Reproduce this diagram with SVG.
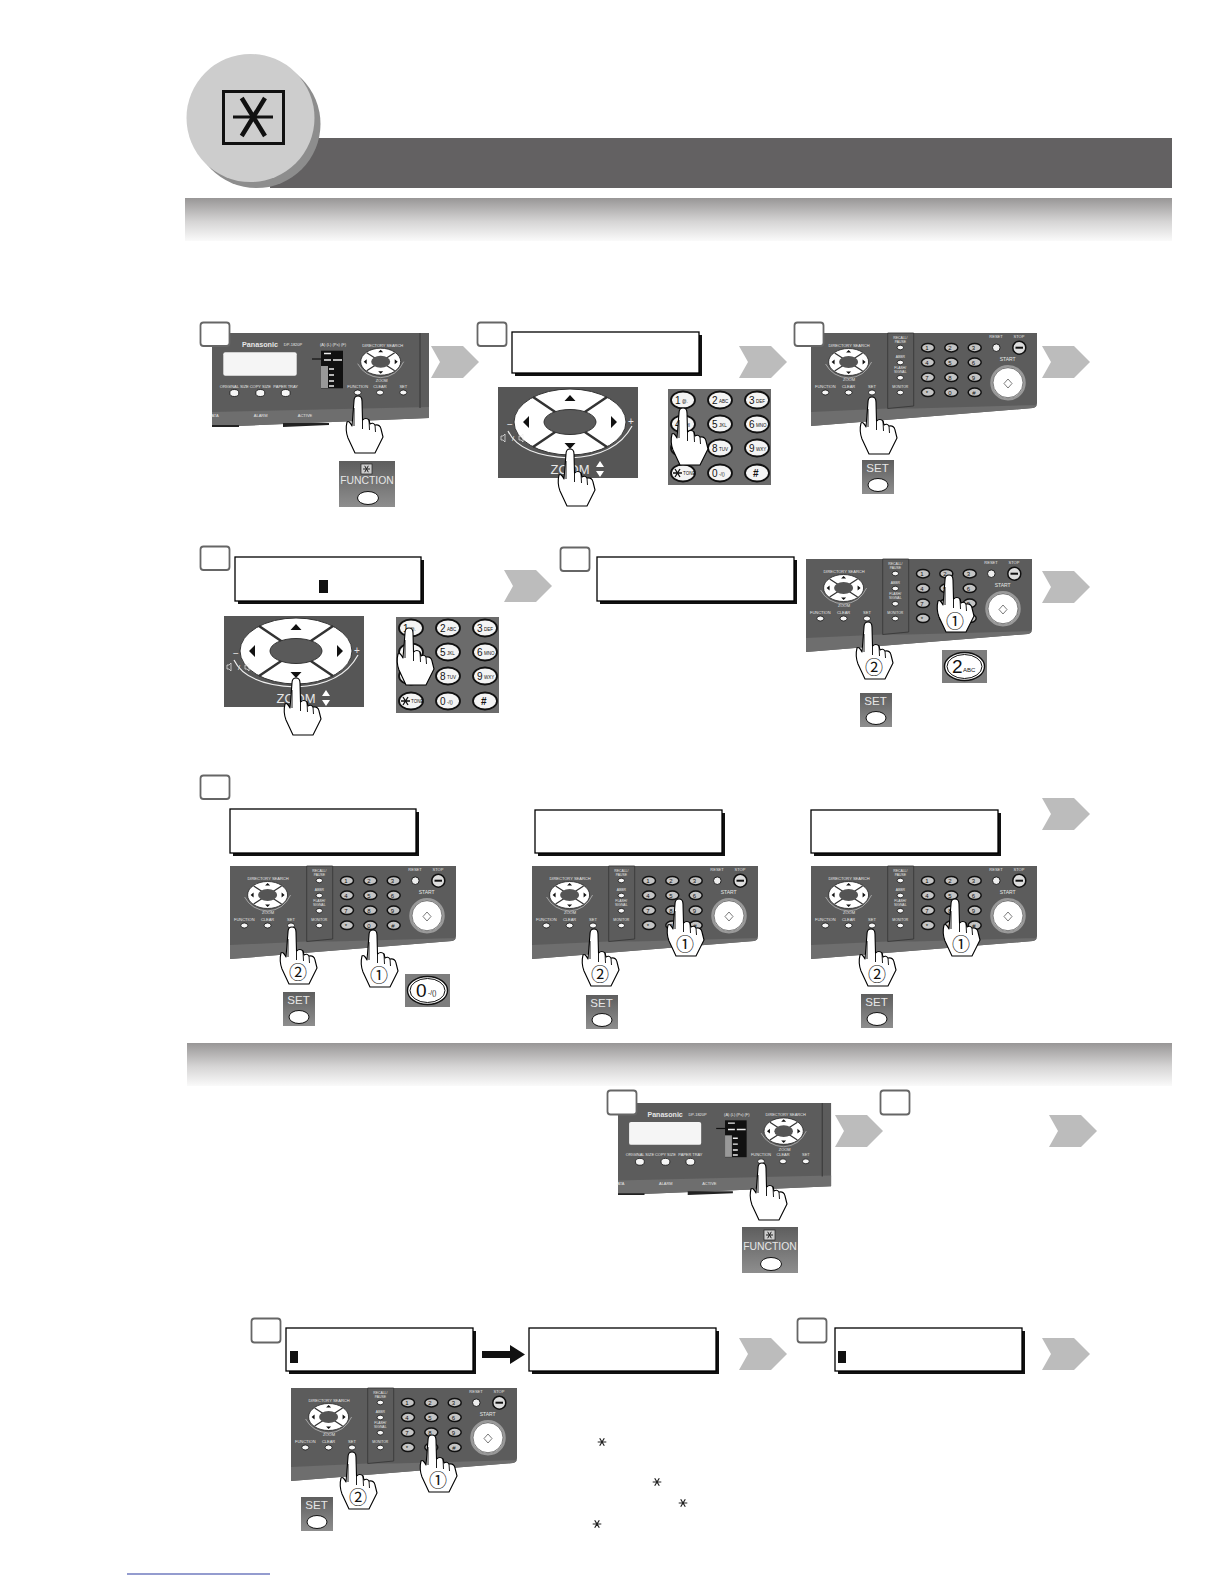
<svg xmlns="http://www.w3.org/2000/svg" xmlns:xlink="http://www.w3.org/1999/xlink" width="1224" height="1584" viewBox="0 0 1224 1584">
<style>
text{font-family:"Liberation Sans",Arial,sans-serif}
.w{fill:#e6e6e6;text-anchor:middle}
.t4{font-size:4px}.t3{font-size:3.4px}
.lcd{fill:#fff;stroke:#000;stroke-width:1.3}
.sh{fill:#111}
.num{fill:#fff;stroke:#666;stroke-width:1.8}
.btn{fill:#f6f6f6;stroke:#111;stroke-width:.8}
.key{fill:#f4f4f4;stroke:#111;stroke-width:1.8}
.hand{fill:#fff;stroke:#000;stroke-width:1.1;stroke-linejoin:round}
.circ{font-family:"Noto Sans CJK JP","DejaVu Sans",sans-serif;font-size:18px;fill:#111;text-anchor:middle}
.chev{fill:#bcbcbc}
.k{fill:#111;font-size:10px;text-anchor:start}
.ks{fill:#111;font-size:4.5px;text-anchor:start}
</style>
<defs>
<linearGradient id="band" x1="0" y1="0" x2="0" y2="1"><stop offset="0" stop-color="#989696"/><stop offset=".55" stop-color="#d6d5d5"/><stop offset="1" stop-color="#fafafa"/></linearGradient>
<linearGradient id="chip" x1="0" y1="0" x2="0" y2="1"><stop offset="0" stop-color="#5e5e5e"/><stop offset="1" stop-color="#8e8e8e"/></linearGradient>
<g id="ast"><path d="M-4.300 0H4.300M-2.300-3.800L2.300 3.800M2.300-3.800L-2.300 3.800" stroke="#222" stroke-width="1.200" fill="none"/></g>
<g id="hand">
<path class="hand" d="M-4 5Q-4 0 0 0Q4 0 4 5L4.500 24Q8 21 11 24L12 28Q15 26 17 29Q22 28 23 33L25 41L17 57H-3L-10 42Q-13 34-11 26Q-9 24-6 30Z"/>
<path d="M4.500 24V33M11 24L11.500 34M17 29L17.500 36M-4 30V12" fill="none" stroke="#000" stroke-width=".9"/>
</g>
<g id="pad">
<ellipse rx="20" ry="13.500" fill="#fff" stroke="#222" stroke-width=".8"/>
<path d="M-14-9L14 9M14-9L-14 9" stroke="#333" stroke-width="1.300"/>
<ellipse rx="9.500" ry="6" fill="#555"/>
<path d="M0-12L-2.500-9.500H2.500ZM0 12L-2.500 9.500H2.500ZM-17 0L-14-2.500V2.500ZM17 0L14-2.500V2.500Z" fill="#111"/>
<path d="M-23 2Q-16 15 0 16Q16 15 23 0" fill="none" stroke="#eee" stroke-width=".5"/>
</g>
<g id="panelA">
<path d="M0 0H217V85L0 94Z" fill="#5c5c5c"/>
<path d="M0 79L217 74V85L0 94Z" fill="#6e6e6e"/>
<path d="M0 92H27V94H0ZM71 90H117V92L71 94Z" fill="#222"/>
<path d="M208 0V75" stroke="#3c3c3c" stroke-width="1.200"/>
<text class="w" x="48" y="14" style="font-size:7.200px;font-weight:700">Panasonic</text>
<text class="w t4" x="81" y="13">DP-1820P</text>
<rect x="11.300" y="19.300" width="73.400" height="23.400" rx="2" fill="#f5f5f5"/>
<text class="w t4" x="121" y="13">(A) (L) (Ps) (F)</text>
<rect x="109" y="17.700" width="22" height="37.600" fill="#111"/>
<rect x="109" y="33" width="7" height="22" fill="#999"/>
<path d="M112 20.500H119M112 27H119M117 36H122M117 42H122M117 48H122M117 53H122M121 27H130" stroke="#eee" stroke-width="1.400"/>
<path d="M100 26H109" stroke="#111" stroke-width="1.200"/>
<text class="w t4" x="170.700" y="13.500">DIRECTORY SEARCH</text>
<use xlink:href="#pad" x="168.700" y="28.700"/>
<text class="w t4" x="169.700" y="49">ZOOM</text>
<text class="w t4" x="22.300" y="54.500">ORIGINAL SIZE</text>
<text class="w t4" x="48.300" y="54.500">COPY SIZE</text>
<text class="w t4" x="73.700" y="54.500">PAPER TRAY</text>
<ellipse class="btn" cx="22.300" cy="60" rx="4.500" ry="3.500"/>
<ellipse class="btn" cx="48.300" cy="60" rx="4.500" ry="3.500"/>
<ellipse class="btn" cx="73.700" cy="60" rx="4.500" ry="3.500"/>
<text class="w t4" x="145.700" y="54.500">FUNCTION</text>
<text class="w t4" x="168" y="54.500">CLEAR</text>
<text class="w t4" x="191.300" y="54.500">SET</text>
<ellipse class="btn" cx="145.700" cy="59.500" rx="3.500" ry="2.500"/>
<ellipse class="btn" cx="168" cy="59.500" rx="3.500" ry="2.500"/>
<ellipse class="btn" cx="191.300" cy="59.500" rx="3.500" ry="2.500"/>
<text class="w t4" x="48.700" y="84">ALARM</text>
<text class="w t4" x="93" y="84">ACTIVE</text>
<text class="w t4" x="3" y="84">ATA</text>
</g>
<g id="panelB">
<path d="M0 0H226V70Q226 74 222 75L0 93Z" fill="#5c5c5c"/>
<path d="M0 79L76 75.500H103L226 72V71Q226 74 222 75L0 93Z" fill="#6e6e6e"/>
<path d="M76.700 0H102.700V73L76.700 75.500Z" fill="#5c5c5c" stroke="#333" stroke-width=".8"/>
<text class="w t4" x="38" y="13.500">DIRECTORY SEARCH</text>
<use xlink:href="#pad" x="37.600" y="29"/>
<text class="w t4" x="38" y="47.500">ZOOM</text>
<text class="w t4" x="14.300" y="55">FUNCTION</text>
<text class="w t4" x="37.600" y="55">CLEAR</text>
<text class="w t4" x="61" y="55">SET</text>
<ellipse class="btn" cx="14.300" cy="59.500" rx="3.500" ry="2.500"/>
<ellipse class="btn" cx="37.600" cy="59.500" rx="3.500" ry="2.500"/>
<ellipse class="btn" cx="61" cy="59.500" rx="3.500" ry="2.500"/>
<text class="w t3" x="89.300" y="6">RECALL/</text>
<text class="w t3" x="89.300" y="10">PAUSE</text>
<ellipse class="btn" cx="89.300" cy="14.500" rx="3.200" ry="2.300"/>
<text class="w t3" x="89.300" y="25">ABBR</text>
<ellipse class="btn" cx="89.300" cy="29.500" rx="3.200" ry="2.300"/>
<text class="w t3" x="89.300" y="36">FLASH/</text>
<text class="w t3" x="89.300" y="40">SIGNAL</text>
<ellipse class="btn" cx="89.300" cy="44.700" rx="3.200" ry="2.300"/>
<text class="w t3" x="89.300" y="54.500">MONITOR</text>
<ellipse class="btn" cx="89.300" cy="59.500" rx="3.200" ry="2.300"/>
<g fill="#c4c4c4" stroke="#111" stroke-width="1.500">
<ellipse cx="117" cy="14.700" rx="6.500" ry="4.300"/><ellipse cx="140.300" cy="14.700" rx="6.500" ry="4.300"/><ellipse cx="163.700" cy="14.700" rx="6.500" ry="4.300"/>
<ellipse cx="117" cy="29.300" rx="6.500" ry="4.300"/><ellipse cx="140.300" cy="29.300" rx="6.500" ry="4.300"/><ellipse cx="163.700" cy="29.300" rx="6.500" ry="4.300"/>
<ellipse cx="117" cy="44.300" rx="6.500" ry="4.300"/><ellipse cx="140.300" cy="44.300" rx="6.500" ry="4.300"/><ellipse cx="163.700" cy="44.300" rx="6.500" ry="4.300"/>
<ellipse cx="117" cy="59.300" rx="6.500" ry="4.300"/><ellipse cx="140.300" cy="59.300" rx="6.500" ry="4.300"/><ellipse cx="163.700" cy="59.300" rx="6.500" ry="4.300"/>
</g>
<g fill="#111" style="font-size:6px;text-anchor:middle">
<text x="116" y="17">1</text><text x="139" y="17">2</text><text x="162.500" y="17">3</text>
<text x="116" y="31.500">4</text><text x="139" y="31.500">5</text><text x="162.500" y="31.500">6</text>
<text x="116" y="46.500">7</text><text x="139" y="46.500">8</text><text x="162.500" y="46.500">9</text>
<text x="116" y="61.500">*</text><text x="139" y="61.500">0</text><text x="163" y="61.500">#</text>
</g>
<text class="w t4" x="185" y="5">RESET</text>
<circle cx="185.300" cy="14.700" r="3.800" fill="#eee" stroke="#222"/>
<text class="w t4" x="208" y="5">STOP</text>
<circle cx="208.300" cy="14.700" r="6.500" fill="#ddd" stroke="#111" stroke-width="1.500"/>
<path d="M204.500 14.700H212" stroke="#111" stroke-width="2"/>
<text class="w" x="196.700" y="28" style="font-size:5px">START</text>
<circle cx="197" cy="49.700" r="16.500" fill="#fff" stroke="#999" stroke-width="2.500"/>
<circle cx="197" cy="49.700" r="15" fill="none" stroke="#222" stroke-width=".6"/>
<path d="M197 46L201 50.500L197 55L193 50.500Z" fill="none" stroke="#444" stroke-width=".7"/>
</g>
<g id="zoomPad">
<rect x="-72" y="-35" width="140" height="91" fill="#565656"/>
<ellipse rx="56" ry="33" fill="#fff" stroke="#333"/>
<path d="M-37-25L37 25M37-25L-37 25" stroke="#333" stroke-width="2.500"/>
<ellipse rx="26" ry="12.500" fill="#5a5a5a" stroke="#333"/>
<path d="M0-27L-5.500-21H5.500ZM0 27L-5.500 21H5.500ZM-47 0L-41-6V6ZM47 0L41-6V6Z" fill="#111"/>
<path d="M-62 9Q-50 34 0 36Q46 34 62 4" fill="none" stroke="#eee" stroke-width="1.200"/>
<text class="w" x="-60" y="6" style="font-size:10px">−</text>
<text class="w" x="61" y="3" style="font-size:10px">+</text>
<text class="w" x="-57" y="19" style="font-size:7.500px">/</text>
<path d="M-69 14h2l2-2v8l-2-2h-2ZM-51 14h2l2-2v8l-2-2h-2Z" fill="none" stroke="#eee" stroke-width=".7"/>
<text class="w" x="0" y="52" style="font-size:13px">ZOOM</text>
<path d="M30 39L26 45H34ZM30 55L26 49H34Z" fill="#fff"/>
</g>
<g id="keypad">
<rect width="103" height="96" fill="#6b6b6b"/>
<ellipse class="key" cx="15" cy="11" rx="12" ry="8.500"/><ellipse class="key" cx="52" cy="11" rx="12" ry="8.500"/><ellipse class="key" cx="89" cy="11" rx="12" ry="8.500"/>
<ellipse class="key" cx="15" cy="35" rx="12" ry="8.500"/><ellipse class="key" cx="52" cy="35" rx="12" ry="8.500"/><ellipse class="key" cx="89" cy="35" rx="12" ry="8.500"/>
<ellipse class="key" cx="15" cy="59" rx="12" ry="8.500"/><ellipse class="key" cx="52" cy="59" rx="12" ry="8.500"/><ellipse class="key" cx="89" cy="59" rx="12" ry="8.500"/>
<ellipse class="key" cx="15" cy="84" rx="12" ry="8.500"/><ellipse class="key" cx="52" cy="84" rx="12" ry="8.500"/><ellipse class="key" cx="89" cy="84" rx="12" ry="8.500"/>
<text class="k" x="7" y="15">1</text><text class="ks" x="14" y="14">@.</text>
<text class="k" x="44" y="15">2</text><text class="ks" x="51" y="14">ABC</text>
<text class="k" x="81" y="15">3</text><text class="ks" x="88" y="14">DEF</text>
<text class="k" x="7" y="39">4</text><text class="ks" x="14" y="38">GHI</text>
<text class="k" x="44" y="39">5</text><text class="ks" x="51" y="38">JKL</text>
<text class="k" x="81" y="39">6</text><text class="ks" x="88" y="38">MNO</text>
<text class="k" x="7" y="63">7</text><text class="ks" x="14" y="62">PRS</text>
<text class="k" x="44" y="63">8</text><text class="ks" x="51" y="62">TUV</text>
<text class="k" x="81" y="63">9</text><text class="ks" x="88" y="62">WXY</text>
<path d="M5 84H14M7 80L12 88M12 80L7 88" stroke="#111" stroke-width="1.300"/><text class="ks" x="15" y="86">TONE</text>
<text class="k" x="44" y="88">0</text><text class="ks" x="51" y="87">-/()</text>
<text class="k" x="85" y="88" style="font-weight:700">#</text>
</g>
<g id="fnChip">
<rect width="56" height="46" fill="url(#chip)"/>
<rect x="22" y="3" width="11" height="10" fill="#ccc" stroke="#222" stroke-width=".7"/>
<path d="M24 8H31M25.700 4.800L29.300 11.200M29.300 4.800L25.700 11.200" stroke="#222" stroke-width="1"/>
<text class="w" x="28" y="23" style="font-size:10.400px">FUNCTION</text>
<ellipse cx="29" cy="37" rx="10.500" ry="6.500" fill="#fff" stroke="#111" stroke-width="1"/>
</g>
<g id="setChip">
<rect width="32" height="34" fill="url(#chip)"/>
<text class="w" x="15.500" y="12" style="font-size:11.500px">SET</text>
<ellipse cx="16" cy="25" rx="10" ry="6.500" fill="#fff" stroke="#111" stroke-width="1"/>
</g>
<g id="keyChipBg">
<rect width="45" height="33" fill="#7d7d7d"/>
<ellipse cx="22.500" cy="16.500" rx="20" ry="14" fill="#fff" stroke="#111" stroke-width="1.400"/>
<ellipse cx="22.500" cy="16.500" rx="17.500" ry="12" fill="none" stroke="#111" stroke-width="1"/>
</g>
<g id="chevron"><path class="chev" d="M0 0H32L48 16L32 32H0L9 16Z"/></g>
</defs>

<g id="header">
<rect x="270" y="138" width="902" height="50" fill="#636162"/>
<circle cx="256.500" cy="124" r="64" fill="#8d8d8d"/>
<circle cx="250.500" cy="118" r="64" fill="#cdcdcd"/>
<rect x="223.500" y="91.500" width="60" height="52" fill="none" stroke="#111" stroke-width="3"/>
<path d="M233 117H273" stroke="#111" stroke-width="3.200" fill="none"/>
<path d="M241.700 98L265 136M265 98L241.700 136" stroke="#111" stroke-width="4.500" fill="none"/>
</g>
<rect id="band1" x="185" y="198" width="987" height="43" fill="url(#band)"/>
<rect id="band2" x="187" y="1043" width="985" height="43" fill="url(#band)"/>

<g id="step1">
<use xlink:href="#panelA" x="212" y="333"/>
<rect class="num" x="200.500" y="322.500" width="29" height="23.500" rx="3"/>
<use xlink:href="#hand" x="358" y="396"/>
<use xlink:href="#fnChip" x="339" y="461"/>
</g>
<g id="step2">
<rect class="sh" x="515" y="335" width="187" height="41"/><rect class="lcd" x="512" y="332" width="187" height="41"/>
<rect class="num" x="477.500" y="322.500" width="29" height="23.500" rx="3"/>
<use xlink:href="#zoomPad" x="570" y="422"/>
<use xlink:href="#hand" x="570" y="449"/>
<use xlink:href="#keypad" x="668" y="389"/>
<use xlink:href="#hand" x="683" y="408"/>
</g>
<g id="step3">
<use xlink:href="#panelB" x="811" y="333"/>
<rect class="num" x="794.500" y="322.500" width="29" height="23.500" rx="3"/>
<use xlink:href="#hand" x="872" y="397"/>
<use xlink:href="#setChip" x="862" y="460"/>
</g>
<g id="step4">
<rect class="sh" x="238" y="560" width="186" height="44"/><rect class="lcd" x="235" y="557" width="186" height="44"/>
<rect x="319" y="580" width="9" height="13" fill="#111"/>
<rect class="num" x="200.500" y="546.500" width="29" height="23.500" rx="3"/>
<use xlink:href="#zoomPad" x="296" y="651"/>
<use xlink:href="#hand" x="296" y="678"/>
<use xlink:href="#keypad" x="396" y="617"/>
<use xlink:href="#hand" x="409" y="628"/>
</g>
<g id="step5">
<rect class="sh" x="600" y="560" width="197" height="44"/><rect class="lcd" x="597" y="557" width="197" height="44"/>
<rect class="num" x="560.500" y="547.500" width="29" height="23.500" rx="3"/>
<use xlink:href="#panelB" x="806" y="559"/>
<use xlink:href="#hand" x="949" y="575"/><text class="circ" x="955" y="628">①</text>
<use xlink:href="#hand" x="868" y="622"/><text class="circ" x="874" y="674">②</text>
<use xlink:href="#keyChipBg" x="942" y="650"/>
<text x="952" y="673" style="font-size:19px;fill:#111">2</text><text x="963" y="672" style="font-size:6px;fill:#111">ABC</text>
<use xlink:href="#setChip" x="860" y="693"/>
</g>
<g id="step6">
<rect class="num" x="200.500" y="775.500" width="29" height="23.500" rx="3"/>
<rect class="sh" x="233" y="812" width="186" height="44"/><rect class="lcd" x="230" y="809" width="186" height="44"/>
<use xlink:href="#panelB" x="230" y="866"/>
<use xlink:href="#hand" x="292" y="927"/><text class="circ" x="298" y="979">②</text>
<use xlink:href="#hand" x="373" y="930"/><text class="circ" x="379" y="982">①</text>
<use xlink:href="#setChip" x="283" y="992"/>
<use xlink:href="#keyChipBg" x="405" y="974"/>
<text x="416" y="997" style="font-size:19px;fill:#111">0</text><text x="428" y="995" style="font-size:6.500px;fill:#111">-/()</text>
<rect class="sh" x="538" y="813" width="187" height="43"/><rect class="lcd" x="535" y="810" width="187" height="43"/>
<use xlink:href="#panelB" x="532" y="866"/>
<use xlink:href="#hand" x="594" y="929"/><text class="circ" x="600" y="981">②</text>
<use xlink:href="#hand" x="679" y="899"/><text class="circ" x="685" y="951">①</text>
<use xlink:href="#setChip" x="586" y="995"/>
<rect class="sh" x="814" y="813" width="187" height="43"/><rect class="lcd" x="811" y="810" width="187" height="43"/>
<use xlink:href="#panelB" x="811" y="866"/>
<use xlink:href="#hand" x="871" y="929"/><text class="circ" x="877" y="981">②</text>
<use xlink:href="#hand" x="955" y="899"/><text class="circ" x="961" y="951">①</text>
<use xlink:href="#setChip" x="861" y="994"/>
</g>
<g id="step7">
<g transform="translate(618,1103) scale(.982,.98)"><use xlink:href="#panelA"/></g>
<rect class="num" x="607.500" y="1090.500" width="29" height="24" rx="3"/>
<use xlink:href="#hand" x="762" y="1163"/>
<use xlink:href="#fnChip" x="742" y="1227"/>
</g>
<rect id="step8" class="num" x="880.500" y="1090.500" width="29" height="24" rx="3"/>
<g id="step9">
<rect class="num" x="251.500" y="1318.500" width="29" height="24" rx="3"/>
<rect class="sh" x="289" y="1331" width="187" height="43"/><rect class="lcd" x="286" y="1328" width="187" height="43"/>
<rect x="290" y="1351" width="8" height="12" fill="#111"/>
<rect class="sh" x="532" y="1331" width="187" height="43"/><rect class="lcd" x="529" y="1328" width="187" height="43"/>
<use xlink:href="#panelB" x="291" y="1388"/>
<use xlink:href="#hand" x="352" y="1452"/><text class="circ" x="358" y="1504">②</text>
<use xlink:href="#hand" x="432" y="1435"/><text class="circ" x="438" y="1487">①</text>
<use xlink:href="#setChip" x="301" y="1497"/>
</g>
<g id="step10">
<rect class="num" x="797.500" y="1318.500" width="29" height="24" rx="3"/>
<rect class="sh" x="838" y="1331" width="187" height="43"/><rect class="lcd" x="835" y="1328" width="187" height="43"/>
<rect x="838" y="1351" width="8" height="12" fill="#111"/>
</g>
<g id="stars">
<use xlink:href="#ast" x="602" y="1442"/><use xlink:href="#ast" x="657" y="1482"/><use xlink:href="#ast" x="683" y="1503"/><use xlink:href="#ast" x="597" y="1524"/>
</g>
<g id="connectors">
<use xlink:href="#chevron" x="431" y="346"/>
<use xlink:href="#chevron" x="739" y="346"/>
<use xlink:href="#chevron" x="1042" y="346"/>
<use xlink:href="#chevron" x="504" y="570"/>
<use xlink:href="#chevron" x="1042" y="571"/>
<use xlink:href="#chevron" x="1042" y="798"/>
<use xlink:href="#chevron" x="835" y="1115"/>
<use xlink:href="#chevron" x="1049" y="1115"/>
<use xlink:href="#chevron" x="739" y="1338"/>
<use xlink:href="#chevron" x="1042" y="1338"/>
<path d="M482 1351H510V1345L525 1354.500L510 1364V1358H482Z" fill="#111"/>
</g>
<rect id="footerRule" x="127" y="1573.500" width="143" height="1" fill="#2a3aa0"/>
</svg>
